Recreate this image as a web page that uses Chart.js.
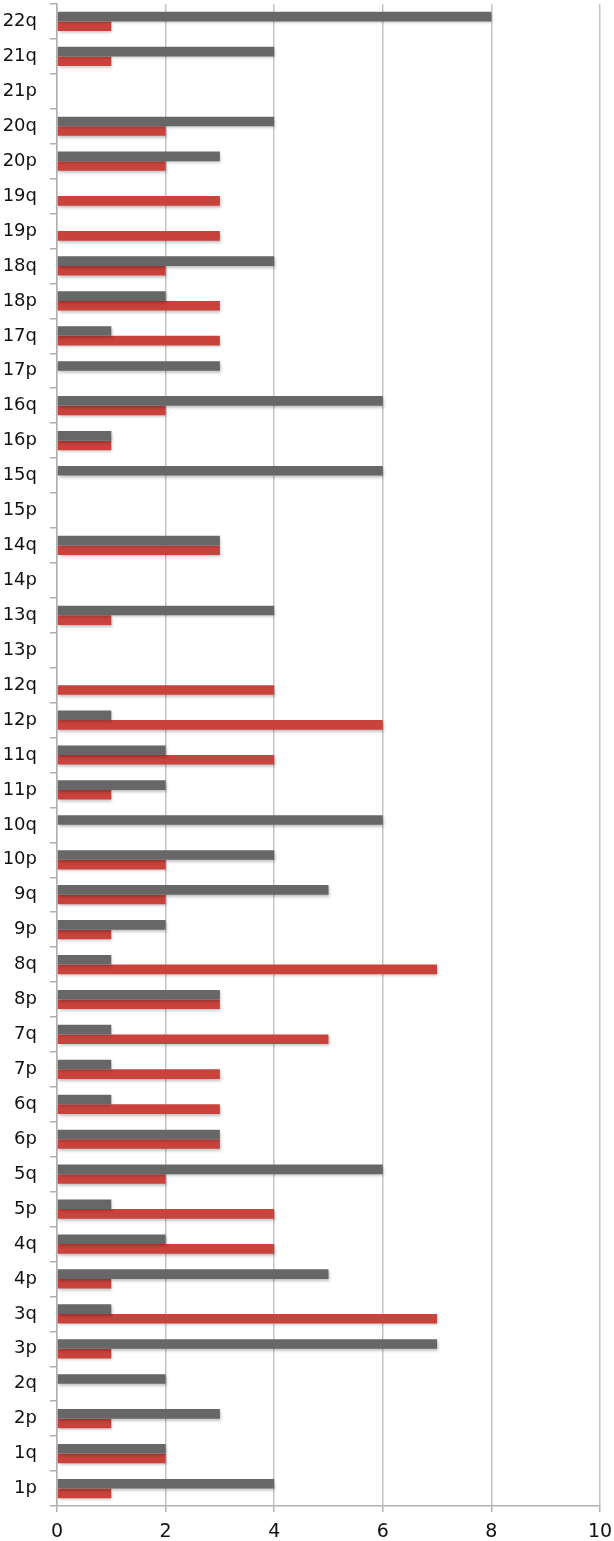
<!DOCTYPE html>
<html>
<head>
<meta charset="utf-8">
<script src="https://cdn.jsdelivr.net/npm/chart.js@4"></script>
<style>
  html, body { margin: 0; padding: 0; background: #fff; }
  #wrap { position: relative; width: 614px; height: 1541px; }
</style>
</head>
<body>
<div id="wrap"><canvas id="chart"></canvas></div>
<script>
/* ---- Data (top to bottom, as in the picture) ---- */
const arms = ['22q','21q','21p','20q','20p','19q','19p','18q','18p','17q','17p',
  '16q','16p','15q','15p','14q','14p','13q','13p','12q','12p','11q','11p',
  '10q','10p','9q','9p','8q','8p','7q','7p','6q','6p','5q','5p','4q','4p',
  '3q','3p','2q','2p','1q','1p'];

const grayValues = [8,4,0,4,3,0,0,4,2,1,3,
  6,1,6,0,3,0,4,0,0,1,2,2,
  6,4,5,2,1,3,1,1,1,3,6,1,2,5,
  1,7,2,3,2,4];

const redValues = [1,1,0,2,2,3,3,2,3,3,0,
  2,1,0,0,3,0,1,0,4,6,4,1,
  0,2,2,1,7,3,5,3,3,3,2,4,4,1,
  7,1,0,1,2,1];

const xTicks = [0, 2, 4, 6, 8, 10];

/* ---- Soft drop shadow under bars ---- */
const barShadow = {
  id: 'barShadow',
  beforeDatasetsDraw(chart) {
    const ctx = chart.ctx;
    ctx.save();
    ctx.shadowColor = 'rgba(0,0,0,0.25)';
    ctx.shadowBlur = 3;
    ctx.shadowOffsetX = 1;
    ctx.shadowOffsetY = 2;
  },
  afterDatasetsDraw(chart) {
    chart.ctx.restore();
  },
};

const FONT = '"DejaVu Sans", "Open Sans", sans-serif';

new Chart(document.getElementById('chart'), {
  type: 'bar',
  data: {
    labels: arms,
    datasets: [
      {
        label: 'gray',
        data: grayValues,
        backgroundColor: '#676767',
        borderWidth: 0,
        categoryPercentage: 0.55,
        barPercentage: 1.0,
      },
      {
        label: 'red',
        data: redValues,
        backgroundColor: '#c9423c',
        borderWidth: 0,
        categoryPercentage: 0.55,
        barPercentage: 1.0,
      },
    ],
  },
  options: {
    indexAxis: 'y',
    responsive: true,
    maintainAspectRatio: false,
    animation: false,
    layout: { padding: { top: 4, right: 14, left: 0, bottom: 0 } },
    plugins: {
      legend: { display: false },
      tooltip: { enabled: false },
    },
    scales: {
      x: {
        min: 0,
        max: 10,
        afterBuildTicks(scale) {
          scale.ticks = xTicks.map((v) => ({ value: v }));
        },
        afterFit(scale) {
          scale.height = 35;
          scale.paddingLeft = 0;
          scale.paddingRight = 0;
        },
        grid: {
          color: '#c4c4c4',
          lineWidth: 1.5,
          drawTicks: true,
          tickLength: 6,
          tickColor: '#b0b0b0',
        },
        border: { display: true, color: '#b0b0b0', width: 1.5 },
        ticks: {
          color: '#111',
          font: { family: FONT, size: 19 },
          padding: 9,
          maxRotation: 0,
        },
      },
      y: {
        afterFit(scale) {
          scale.width = 57;
          scale.paddingTop = 0;
          scale.paddingBottom = 0;
        },
        grid: {
          drawOnChartArea: false,
          drawTicks: true,
          tickLength: 7,
          tickColor: '#b0b0b0',
          lineWidth: 1.5,
        },
        border: { display: true, color: '#b0b0b0', width: 1.5 },
        ticks: {
          color: '#111',
          font: { family: FONT, size: 18 },
          padding: 13,
          autoSkip: false,
        },
      },
    },
  },
  plugins: [barShadow],
});
</script>
</body>
</html>
